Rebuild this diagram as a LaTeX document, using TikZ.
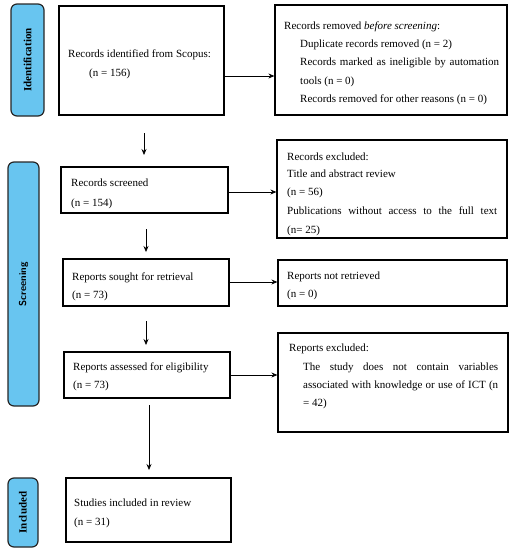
\documentclass[tikz,border=0pt]{standalone}
\usepackage{fontspec}
\setmainfont{Liberation Serif}
\usetikzlibrary{arrows.meta}
\definecolor{pillblue}{RGB}{104,197,240}
\tikzset{
  box/.style={draw=black, line width=1.2pt, inner sep=0pt, minimum width=#1},
  pill/.style={draw=black!85, line width=1.2pt, fill=pillblue, rounded corners=6pt, inner sep=0pt},
  txt/.style={anchor=base west, inner sep=0pt, font=\fontsize{11}{13}\selectfont},
  pilltxt/.style={rotate=90, inner sep=0pt, font=\fontsize{11}{13}\selectfont\bfseries},
  arr/.style={line width=0.7pt, -{Stealth[length=6pt,width=5pt]}}
}
\begin{document}
\begin{tikzpicture}[x=1pt,y=-1pt]
\useasboundingbox (0,0) rectangle (512,550);
% pills
\node[pill, minimum width=33pt, minimum height=112pt] (p1) at (27.5,60) {};
\node[pilltxt] (p1t) at (p1.center) {Identification};
\node[pill, minimum width=31pt, minimum height=244pt] (p2) at (23.5,284) {};
\node[pilltxt, font=\fontsize{10}{12}\selectfont\sffamily\bfseries] (p2t) at (p2.center) {Screening};
\node[pill, minimum width=30pt, minimum height=69pt] (p3) at (23,512.5) {};
\node[pilltxt] (p3t) at (p3.center) {Included};
% boxes
\node[box=165pt, minimum height=109pt] (b1) at (141.5,60.5) {};
\node[box=232pt, minimum height=110pt] (b2) at (391,60) {};
\node[box=167pt, minimum height=46pt] (s1) at (144.5,190) {};
\node[box=230pt, minimum height=98pt] (e1) at (392,189) {};
\node[box=166pt, minimum height=47pt] (s2) at (146,282.5) {};
\node[box=229pt, minimum height=46pt] (e2) at (392.5,283) {};
\node[box=166pt, minimum height=46pt] (s3) at (147,375) {};
\node[box=230pt, minimum height=99pt] (e3) at (393,382.5) {};
\node[box=165pt, minimum height=64pt] (s4) at (148.5,510) {};
% texts
\node[txt] (t1a) at (68,57) {Records identified from Scopus:};
\node[txt] (t1b) at (89,76) {(n = 156)};
\node[txt] (t2a) at (284,29) {Records removed \textit{before screening}:};
\node[txt] (t2b) at (300,47) {Duplicate records removed (n = 2)};
\node[txt] (t2c) at (300,65) {\makebox[199pt][s]{Records marked as ineligible by automation}};
\node[txt] (t2d) at (300,84) {tools (n = 0)};
\node[txt] (t2e) at (300,102) {Records removed for other reasons (n = 0)};
\node[txt] (t3a) at (71,186) {Records screened};
\node[txt] (t3b) at (71,206) {(n = 154)};
\node[txt] (t4a) at (287,160) {Records excluded:};
\node[txt] (t4b) at (287,177) {Title and abstract review};
\node[txt] (t4c) at (287,195) {(n = 56)};
\node[txt] (t4d) at (287,214) {\makebox[210pt][s]{Publications without access to the full text}};
\node[txt] (t4e) at (287,233) {(n= 25)};
\node[txt] (t5a) at (72,280) {Reports sought for retrieval};
\node[txt] (t5b) at (72,298) {(n = 73)};
\node[txt] (t6a) at (287,279) {Reports not retrieved};
\node[txt] (t6b) at (287,297) {(n = 0)};
\node[txt] (t7a) at (73,370) {Reports assessed for eligibility};
\node[txt] (t7b) at (73,388) {(n = 73)};
\node[txt] (t8a) at (289,351) {Reports excluded:};
\node[txt] (t8b) at (303,370) {\makebox[195pt][s]{The study does not contain variables}};
\node[txt] (t8c) at (303,388) {\makebox[195pt][s]{associated with knowledge or use of ICT (n}};
\node[txt] (t8d) at (303,406) {= 42)};
\node[txt] (t9a) at (74,506) {Studies included in review};
\node[txt] (t9b) at (74,525) {(n = 31)};
% arrow helper coordinates
\coordinate (h1) at (0,76);
\coordinate (h2) at (0,192);
\coordinate (h3) at (0,282);
\coordinate (h4) at (0,375);
\coordinate (d1s) at (144,133); \coordinate (d1e) at (144,155);
\coordinate (d2s) at (146,229); \coordinate (d2e) at (146,252);
\coordinate (d3s) at (146,321); \coordinate (d3e) at (146,345);
\coordinate (d4s) at (149,405); \coordinate (d4e) at (149,470);
% arrows
\draw[arr] (h1 -| b1.east) -- (h1 -| b2.west);
\draw[arr] (h2 -| s1.east) -- (h2 -| e1.west);
\draw[arr] (h3 -| s2.east) -- (h3 -| e2.west);
\draw[arr] (h4 -| s3.east) -- (h4 -| e3.west);
\draw[arr] (d1s) -- (d1e);
\draw[arr] (d2s) -- (d2e);
\draw[arr] (d3s) -- (d3e);
\draw[arr] (d4s) -- (d4e);
\end{tikzpicture}
\end{document}
